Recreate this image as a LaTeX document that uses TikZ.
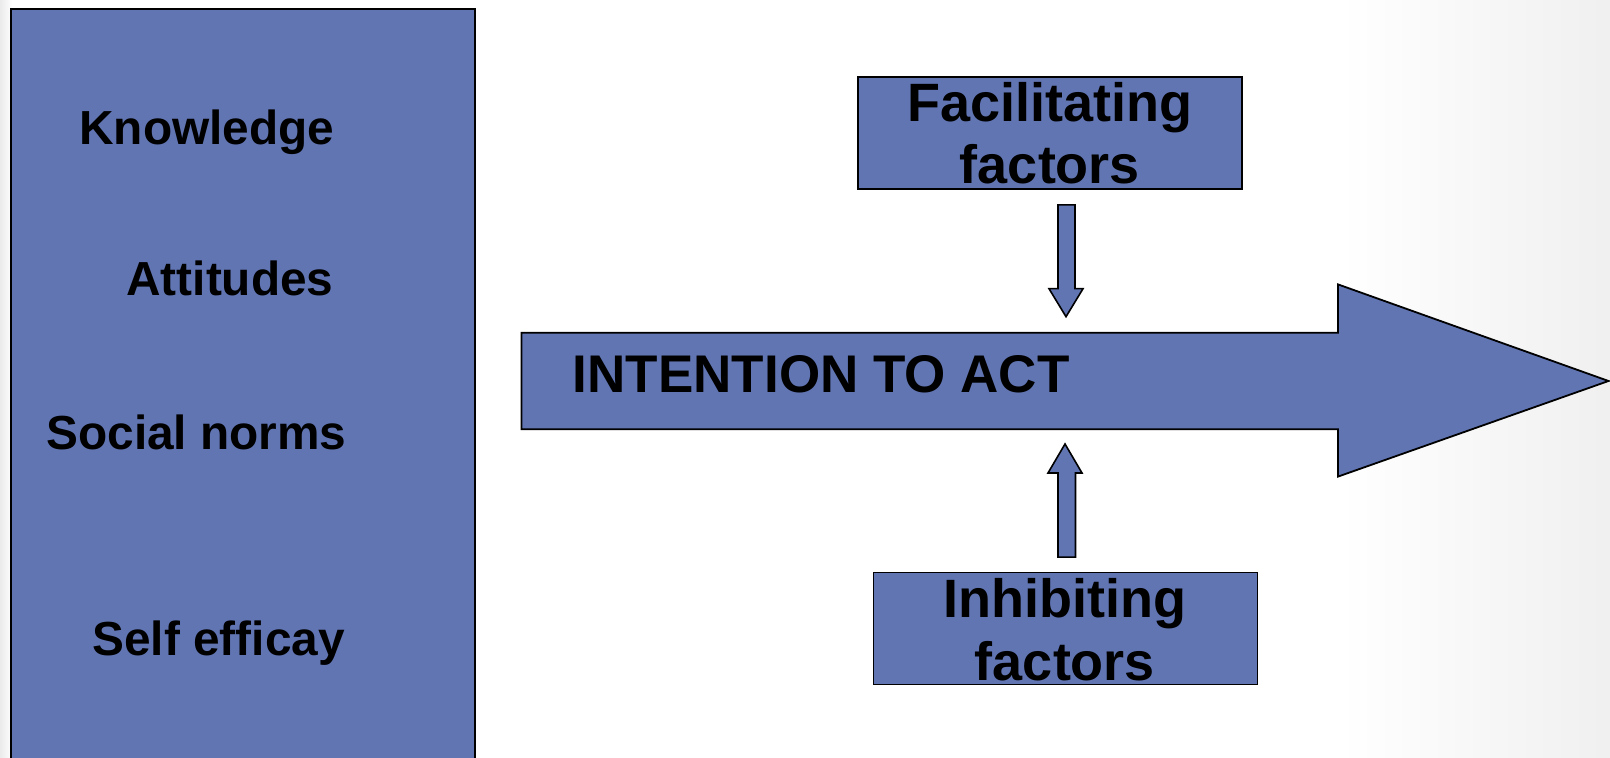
\documentclass[tikz,border=0pt]{standalone}
\usepackage{fontspec}
\setmainfont{Liberation Sans}
\usetikzlibrary{calc}
\definecolor{boxblue}{RGB}{97,117,179}
\tikzset{
  blue shape/.style={fill=boxblue, draw=black, line width=0.9pt},
  leftlabel/.style={anchor=base west, inner sep=0pt, font=\bfseries\fontsize{23.9}{28}\selectfont},
  boxlabel/.style={anchor=base, inner sep=0pt, font=\bfseries\fontsize{27}{31}\selectfont},
  factorbox/.style={blue shape, minimum width=192pt, minimum height=56pt, inner sep=0pt}
}
\begin{document}
\begin{tikzpicture}[x=0.5pt,y=-0.5pt]
\useasboundingbox (0,0) rectangle (1610,758);
\fill[white] (0,0) rectangle (1610,758);
\shade[left color=white, right color=black!6] (1340,0) rectangle (1610,758);
\shade[left color=black!8, right color=white] (0,0) rectangle (12,758);
% left box
\node[blue shape, minimum width=232pt, minimum height=380pt, inner sep=0pt, anchor=north west] (factors) at (10,8) {};
\node[leftlabel] (know) at (79,145) {Knowledge};
\node[leftlabel] (att) at (126,296) {Attitudes};
\node[leftlabel] (soc) at (46,449.5) {Social norms};
\node[leftlabel] (self) at (92,655) {Self efficay};
% big arrow
\draw[blue shape] (521.5,332.7) -- (1338,332.7) -- (1338,284.4) -- (1608.5,381) -- (1338,476.6) -- (1338,429.2) -- (521.5,429.2) -- cycle;
\coordinate (arrtop) at (1066,332.7);
\coordinate (arrbot) at (1066,429.2);
\node[anchor=base west, inner sep=0pt, font=\bfseries\fontsize{26.5}{31}\selectfont] (intent) at (572.5,393) {INTENTION TO ACT};
% facilitating box
\node[factorbox] (fac) at (1050,133) {};
\node[boxlabel] (facA) at (1050,121.7) {Facilitating};
\node[boxlabel] (facB) at (1050,184) {factors};
% inhibiting box
\node[factorbox] (inh) at (1065.5,628.5) {};
\node[boxlabel] (inhA) at (1065,617.7) {Inhibiting};
\node[boxlabel] (inhB) at (1065,680.7) {factors};
% small block arrows
\draw[blue shape, line width=0.8pt]
  ($(fac.south)+(8,15)$) -- ($(fac.south)+(25,15)$) -- ($(arrtop)+(9,-44)$) -- ($(arrtop)+(17,-44)$)
  -- ($(arrtop)+(0,-16)$) -- ($(arrtop)+(-17,-44)$) -- ($(arrtop)+(-8,-44)$) -- cycle;
\draw[blue shape, line width=0.8pt]
  ($(inh.north)+(-7.5,-14.5)$) -- ($(inh.north)+(10,-14.5)$) -- ($(arrbot)+(9.5,43.8)$) -- ($(arrbot)+(16,43.8)$)
  -- ($(arrbot)+(-1,14.8)$) -- ($(arrbot)+(-18,43.8)$) -- ($(arrbot)+(-8,43.8)$) -- cycle;
\end{tikzpicture}
\end{document}
